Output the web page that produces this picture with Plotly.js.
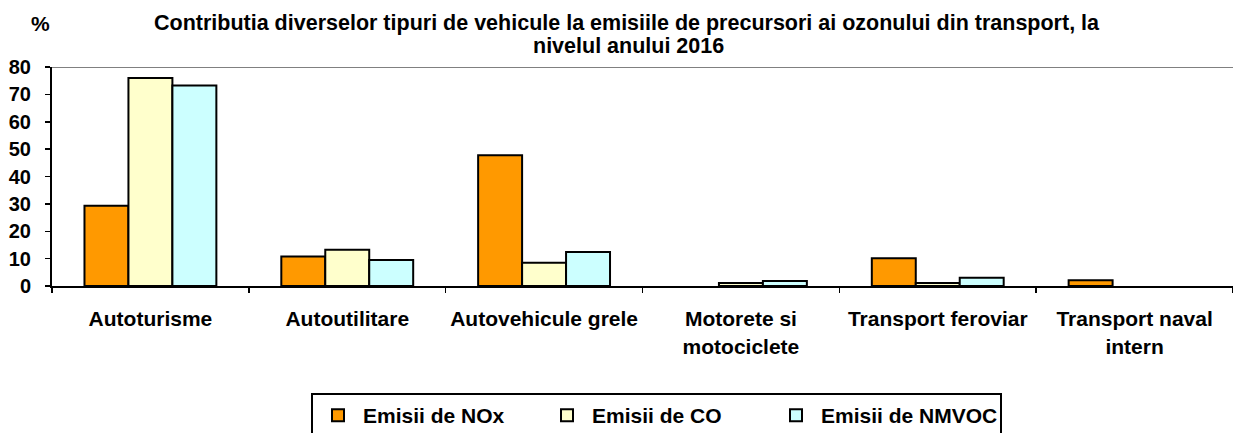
<!DOCTYPE html>
<html>
<head>
<meta charset="utf-8">
<script src="https://cdn.plot.ly/plotly-3.0.1.min.js"></script>
<style>html,body{margin:0;padding:0;background:#fff;}#chart{width:1233px;height:433px;}</style>
</head>
<body>
<div id="chart"></div>
<script>
const categories = ["Autoturisme", "Autoutilitare", "Autovehicule grele", "Motorete si<br>motociclete", "Transport feroviar", "Transport naval<br>intern"];
const seriesNames = ["Emisii de NOx", "Emisii de CO", "Emisii de NMVOC"];
const noxValues = [29.3, 10.8, 47.8, 0, 10.1, 2.1];
const coValues = [76.0, 13.2, 8.5, 1.1, 1.1, 0];
const nmvocValues = [73.2, 9.5, 12.4, 1.8, 3.0, 0];
const yTicks = [0, 10, 20, 30, 40, 50, 60, 70, 80];
const titleLines = ["Contributia diverselor tipuri de vehicule la emisiile de precursori ai ozonului din transport, la", "nivelul anului 2016"];
const yUnit = "%";

const colors = ["#FF9900", "#FFFFCC", "#CCFFFF"];
const allValues = [noxValues, coValues, nmvocValues];
const FONT = "Liberation Sans, Arial, sans-serif";

const traces = allValues.map((vals, i) => ({
  type: "bar",
  name: seriesNames[i],
  x: categories,
  y: vals,
  marker: {color: colors[i], line: {color: "#000000", width: vals.map(v => v === 0 ? 0 : 2)}},
  hoverinfo: "x+y"
}));

// plot area geometry (px) used to place paper-referenced annotations
const W = 1233, H = 433, ML = 52, MR = 0, MT = 67, MB = 146.5;
const PW = W - ML - MR, PH = H - MT - MB;
const px2x = px => (px - ML) / PW;
const py2y = py => (H - MB - py) / PH;

const layout = {
  width: W, height: H,
  margin: {l: ML, r: MR, t: MT, b: MB, pad: 0},
  paper_bgcolor: "#ffffff", plot_bgcolor: "#ffffff",
  barmode: "group", bargap: 0.33, bargroupgap: 0,
  font: {family: FONT, color: "#000000"},
  xaxis: {
    type: "category",
    tickson: "boundaries",
    tickangle: 0,
    ticks: "outside", ticklen: 5, tickwidth: 1.5, tickcolor: "#000",
    showline: true, linecolor: "#000", linewidth: 2,
    showgrid: false,
    tickfont: {family: FONT, size: 21, color: "#000", weight: "bold"},
    ticklabelstandoff: 13,
    fixedrange: true
  },
  yaxis: {
    range: [0, 80],
    tickvals: yTicks,
    ticktext: yTicks.map(v => "<b>" + v + "</b>"),
    ticks: "outside", ticklen: 5, tickwidth: 1.5, tickcolor: "#000",
    showline: true, linecolor: "#000", linewidth: 2,
    showgrid: false, zeroline: false,
    tickfont: {family: FONT, size: 20, color: "#000"},
    ticklabelstandoff: 10,
    fixedrange: true
  },
  shapes: [{
    type: "line", xref: "paper", x0: 0, x1: 1, yref: "y", y0: 80, y1: 80,
    line: {color: "#808080", width: 2}, layer: "below"
  }],
  annotations: [
    {
      text: "<b>" + titleLines[0] + "</b>", xref: "paper", yref: "paper",
      x: px2x(627), y: py2y(23), xanchor: "center", yanchor: "middle",
      showarrow: false, font: {family: FONT, size: 21.5, color: "#000"}
    },
    {
      text: "<b>" + titleLines[1] + "</b>", xref: "paper", yref: "paper",
      x: px2x(628), y: py2y(46), xanchor: "center", yanchor: "middle",
      showarrow: false, font: {family: FONT, size: 21.5, color: "#000"}
    },
    {
      text: "<b>" + yUnit + "</b>", xref: "paper", yref: "paper",
      x: px2x(40), y: py2y(23), xanchor: "center", yanchor: "middle",
      showarrow: false, font: {family: FONT, size: 21, color: "#000"}
    }
  ],
  legend: {
    orientation: "h",
    xref: "container", yref: "container",
    x: 311 / W, xanchor: "left",
    y: 1 - 393 / H, yanchor: "top",
    bordercolor: "#000", borderwidth: 2,
    bgcolor: "#fff",
    entrywidth: 174, entrywidthmode: "pixels",
    itemwidth: 40,
    font: {family: FONT, size: 21, color: "#000", weight: "bold"},
    traceorder: "normal"
  },
  showlegend: true
};

Plotly.newPlot("chart", traces, layout, {displayModeBar: false, staticPlot: true});
</script>
</body>
</html>
